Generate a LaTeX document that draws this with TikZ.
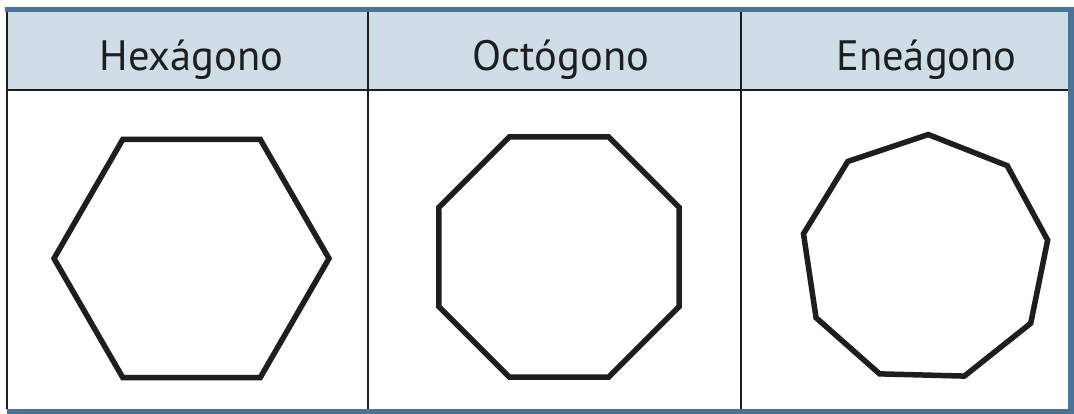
\documentclass[tikz,border=0pt]{standalone}
\usepackage{fontspec}
\setmainfont{PT Sans}
\definecolor{headfill}{HTML}{CEDDE6}
\definecolor{frameblue}{HTML}{4A7396}
\definecolor{rule}{HTML}{1E1E1E}
\begin{document}
\begin{tikzpicture}[x=1pt,y=-1pt,
  head/.style={anchor=base,inner sep=0pt,font=\fontsize{42.5}{42.5}\selectfont,text=rule},
  tabline/.style={draw=rule,line width=2pt},
  poly/.style={draw=rule,line width=5.5pt,line join=miter}]
\useasboundingbox (0,0) rectangle (1074,414);
\fill[white] (0,0) rectangle (1074,414);
% header background
\fill[headfill] (7,12) rectangle (1068,90);
% blue frame
\fill[frameblue] (5,7) rectangle (1074,12);
\fill[frameblue] (1068,7) rectangle (1074,414);
\fill[frameblue] (7,409) rectangle (1074,414);
% table rules
\draw[tabline] (7,12) -- (7,409);
\draw[tabline] (7,90) -- (1068,90);
\draw[tabline] (368,12) -- (368,409);
\draw[tabline] (741,12) -- (741,409);
% headers
\node[head] (h1) at (191.5,70.5) {Hexágono};
\node[head] (h2) at (561,70.5) {Octógono};
\node[head] (h3) at (926.5,70.5) {Eneágono};
% polygons
\draw[poly,shift={(191.5,258.5)}] plot[samples at={0,60,...,300}] (-\x:137.5) -- cycle;
\draw[poly,shift={(559,257)}] plot[samples at={22.5,67.5,...,337.5}] (-\x:130) -- cycle;
\draw[poly,shift={(925,258.5)}] plot[samples at={88.5,128.5,...,408.5}] (-\x:124) -- cycle;
\end{tikzpicture}
\end{document}
